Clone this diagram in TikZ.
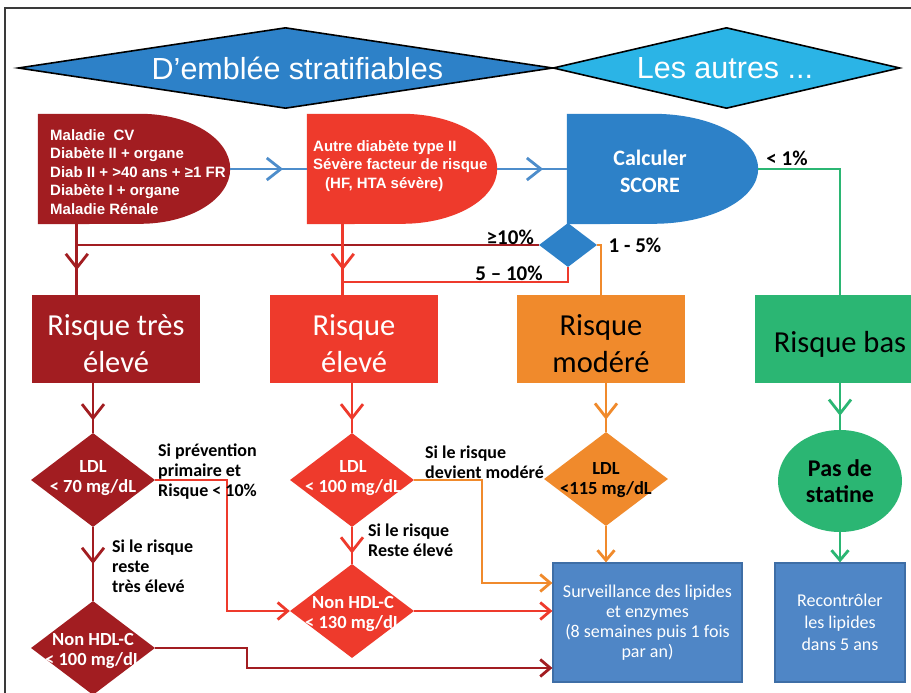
\documentclass[tikz,border=0pt]{standalone}
\usepackage{fontspec}
\setmainfont{Liberation Sans}
\newfontfamily\arialf{Liberation Sans}
\newfontfamily\calf{Carlito}
\usetikzlibrary{shapes.geometric,arrows.meta,decorations.markings}
\definecolor{cdarkred}{HTML}{A21D21}
\definecolor{cred}{HTML}{EE3A2C}
\definecolor{corange}{HTML}{F08A2C}
\definecolor{cgreen}{HTML}{2BB673}
\definecolor{cblue}{HTML}{2D81C8}
\definecolor{ccyan}{HTML}{2BB4E6}
\definecolor{clineblue}{HTML}{4D8DCB}
\definecolor{cbox}{HTML}{4F86C6}
\definecolor{cboxedge}{HTML}{3E6EA6}
\definecolor{cframe}{HTML}{3A3A3A}
\tikzset{
  banner/.style={diamond, draw=black, line width=1.6pt, inner sep=0pt, minimum height=81pt},
  bannertext/.style={text=white, inner sep=0pt, font=\arialf\fontsize{30.5}{34}\selectfont},
  rowtxt/.style={text=white, align=left, inner sep=0pt, anchor=west, font=\arialf\bfseries\fontsize{15}{18.5}\selectfont},
  dzone/.style={inner sep=0pt, minimum height=110pt},
  riskbox/.style={rectangle, inner sep=0pt, minimum height=88pt, minimum width=168pt},
  risktxt/.style={align=center, inner sep=0pt, font=\calf\fontsize{30.5}{37}\selectfont},
  ldl/.style={diamond, inner sep=0pt, minimum width=124pt, minimum height=94pt},
  ldltxt/.style={align=center, inner sep=0pt, font=\calf\bfseries\fontsize{18.5}{19.5}\selectfont},
  lab/.style={align=left, inner sep=0pt, anchor=west, font=\calf\bfseries\fontsize{18}{20}\selectfont},
  pct/.style={inner sep=0pt, font=\calf\bfseries\fontsize{21}{24}\selectfont},
  outbox/.style={rectangle, fill=cbox, draw=cboxedge, line width=1.2pt, minimum height=119pt, align=center, text=white, inner sep=0pt},
  conn/.style={line width=2.8pt},
  endarr/.style={-{Straight Barb[length=10pt,width=17pt]}},
  midarr/.style={postaction={decorate}, decoration={markings, mark=at position #1 with {\arrow{Straight Barb[length=14pt,width=22pt]}}}}
}
\begin{document}
\begin{tikzpicture}[x=1pt, y=-1pt]
\useasboundingbox (0,0) rectangle (911,693);
\clip (0,0) rectangle (911,693);
\fill[white] (0,0) rectangle (911,693);
\draw[cframe, line width=2pt] (5,8) rectangle (940,720);

% banners
\node[banner, fill=cblue, minimum width=535pt] (ban1) at (285.5,68) {};
\node[banner, fill=ccyan, minimum width=347pt] (ban2) at (726.5,68) {};
\node[bannertext] (bt1) at (297.5,68) {D’emblée stratifiables};
\node[bannertext] (bt2) at (725,68) {Les autres ...};

% row 1
\node[dzone, minimum width=192pt] (A) at (134,169) {};
\fill[cdarkred] (A.north west) -- ([xshift=-90pt]A.north east) arc[start angle=90,end angle=-90,x radius=90pt,y radius=55pt] -- (A.south west) -- cycle;
\node[rowtxt] (At) at (50,172) {Maladie\ \ CV\\Diabète II + organe\\Diab II + >40 ans + ≥1 FR\\Diabète I + organe\\Maladie Rénale};

\node[dzone, minimum width=190pt] (B) at (402,169) {};
\fill[cred] (B.north west) -- ([xshift=-95pt]B.north east) arc[start angle=90,end angle=-90,x radius=95pt,y radius=55pt] -- (B.south west) -- cycle;
\node[rowtxt] (Bt) at (313,166) {Autre diabète type II\\Sévère facteur de risque\\\hspace*{12pt}(HF, HTA sévère)};

\node[dzone, minimum width=191pt] (C) at (662.5,169) {};
\fill[cblue] (C.north west) -- ([xshift=-105pt]C.north east) arc[start angle=90,end angle=-90,x radius=105pt,y radius=55pt] -- (C.south west) -- cycle;
\node[align=center, inner sep=0pt, text=white, font=\calf\bfseries\fontsize{22}{27}\selectfont] (Ct) at (650,171) {Calculer\\SCORE};

\node[diamond, fill=cblue, inner sep=0pt, minimum width=58pt, minimum height=44pt] (sd) at (568,245) {};

% risk boxes
\node[riskbox, fill=cdarkred] (R1) at (116,339) {};
\node[risktxt, text=white] (R1t) at (116,344) {Risque très\\élevé};
\node[riskbox, fill=cred] (R2) at (354,339) {};
\node[risktxt, text=white] (R2t) at (354,344) {Risque\\élevé};
\node[riskbox, fill=corange] (R3) at (601,339) {};
\node[risktxt, text=black] (R3t) at (601,344) {Risque\\modéré};
\node[riskbox, fill=cgreen, minimum width=170pt] (R4) at (840,339) {};
\node[risktxt, text=black] (R4t) at (840,344) {Risque bas};

% LDL diamonds
\node[ldl, fill=cdarkred] (d1) at (93,480) {};
\node[ldltxt, text=white] (d1t) at (93,478) {LDL\\< 70 mg/dL};
\node[ldl, fill=cdarkred] (d2) at (93,648) {};
\node[ldltxt, text=white] (d2t) at (93,651) {Non HDL-C\\< 100 mg/dL};
\node[ldl, fill=cred] (d3) at (352,480) {};
\node[ldltxt, text=white] (d3t) at (353,478) {LDL\\< 100 mg/dL};
\node[ldl, fill=cred] (d4) at (352,611) {};
\node[ldltxt, text=white] (d4t) at (353,614) {Non HDL-C\\< 130 mg/dL};
\node[ldl, fill=corange] (d5) at (606,479) {};
\node[ldltxt, text=black] (d5t) at (606,480) {LDL\\<115 mg/dL};

\node[ellipse, fill=cgreen, inner sep=0pt, minimum width=124pt, minimum height=102pt, align=center, font=\calf\bfseries\fontsize{24}{26}\selectfont] (ps) at (840,481) {Pas de\\statine};

\node[outbox, minimum width=189pt, font=\calf\fontsize{18}{20}\selectfont] (S) at (647.5,622.5) {Surveillance des lipides\\et enzymes\\(8 semaines puis 1 fois\\par an)};
\node[outbox, minimum width=130pt, font=\calf\fontsize{18}{22}\selectfont] (T) at (840,622.5) {Recontrôler\\les lipides\\dans 5 ans};

% connectors row 1
\draw[conn, clineblue, midarr=0.69] (A.east) -- (B.west);
\draw[conn, clineblue, midarr=0.66] (B.east) -- (C.west);
\coordinate (a1) at ([xshift=39pt]A.south west);
\draw[conn, cdarkred, midarr=0.65] (a1) -- (a1 |- R1.north);
\draw[conn, cdarkred] (a1 |- sd.west) -- (sd.west);
\coordinate (b1) at ([xshift=36pt]B.south west);
\draw[conn, cred, midarr=0.65] (b1) -- (b1 |- R2.north);
\coordinate (j1) at (343,282);
\draw[conn, cred] (sd.south) |- (j1);
\draw[conn, corange] (sd.east) -| (R3.north);
\draw[conn, cgreen] (C.east) -| (R4.north);

% risk -> diamonds
\draw[conn, cdarkred, midarr=0.75] (R1.south -| d1.north) -- (d1.north);
\draw[conn, cred, midarr=0.75] (R2.south -| d3.north) -- (d3.north);
\draw[conn, corange, midarr=0.75] (R3.south -| d5.north) -- (d5.north);
\draw[conn, cgreen, midarr=0.7] (R4.south) -- (ps.north);

% lower connectors
\draw[conn, cdarkred, midarr=0.5] (d1.south) -- (d2.north);
\draw[conn, cred, midarr=0.72] (d3.south) -- (d4.north);
\draw[conn, corange, endarr] (d5.south) -- (d5.south |- S.north);
\draw[conn, cgreen, endarr] (ps.south) -- (T.north);
\coordinate (c1) at (227,540);
\draw[conn, cred, endarr] (d1.east) -| (c1) |- (d4.west);
\coordinate (c2) at (247,660);
\draw[conn, cdarkred, endarr] (d2.east) -| (c2) |- ([yshift=-45.5pt]S.west);
\coordinate (c3) at (482,530);
\draw[conn, corange, endarr] (d3.east) -| (c3) |- ([yshift=39.5pt]S.west);
\draw[conn, cred, endarr] (d4.east) -- (d4.east -| S.west);

% labels
\node[pct, anchor=east] (p1) at (534,237) {≥10\%};
\node[pct] (p2) at (509,273) {5 – 10\%};
\node[pct] (p3) at (635,245) {1 - 5\%};
\node[pct] (p4) at (787,158) {< 1\%};
\node[lab] (l1) at (158,472) {Si prévention\\primaire et\\Risque < 10\%};
\node[lab] (l2) at (112,566) {Si le risque\\reste\\très élevé};
\node[lab] (l3) at (425,462) {Si le risque\\devient modéré};
\node[lab] (l4) at (368,540) {Si le risque\\Reste élevé};
\end{tikzpicture}
\end{document}
